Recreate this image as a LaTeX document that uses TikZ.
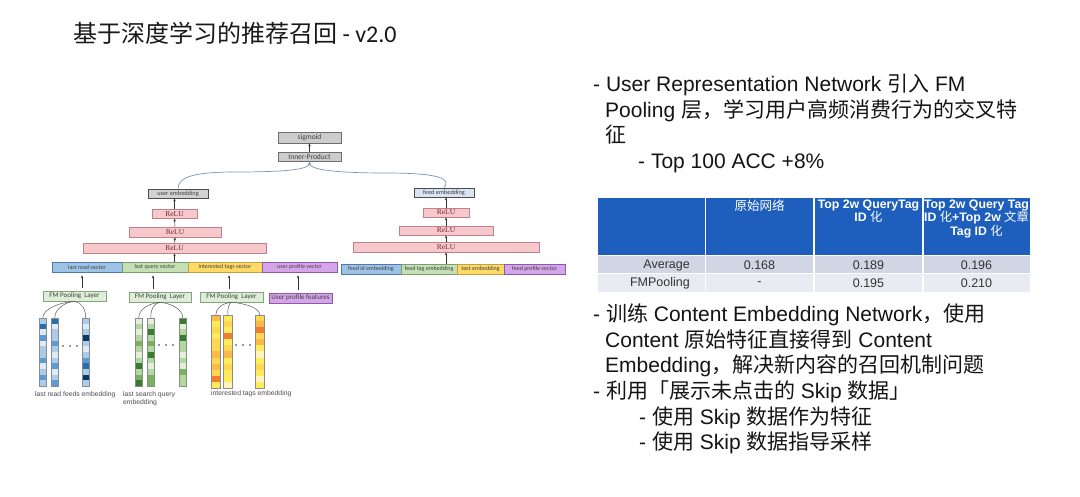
\documentclass[tikz,border=0pt]{standalone}
\usepackage{fontspec}
\setmainfont{Liberation Sans}
\newfontfamily\zh{Noto Sans CJK SC}
\newfontfamily\calfont{Carlito}
\newfontfamily\relufont{Liberation Serif}
\usetikzlibrary{arrows.meta}

\definecolor{gfill}{RGB}{204,204,204}
\definecolor{gdraw}{RGB}{110,110,110}
\definecolor{pfill}{RGB}{246,200,204}
\definecolor{pdraw}{RGB}{190,130,136}
\definecolor{rtext}{RGB}{120,40,40}
\definecolor{ufill}{RGB}{210,210,210}
\definecolor{ffill}{RGB}{218,227,243}
\definecolor{vbf}{RGB}{157,195,230}\definecolor{vbd}{RGB}{80,120,170}
\definecolor{vgf}{RGB}{197,224,180}\definecolor{vgd}{RGB}{120,160,110}
\definecolor{vyf}{RGB}{255,217,102}\definecolor{vyd}{RGB}{190,160,70}
\definecolor{vpf}{RGB}{214,164,232}\definecolor{vpd}{RGB}{140,90,170}
\definecolor{fmf}{RGB}{222,238,216}\definecolor{fmd}{RGB}{130,165,125}
\definecolor{curvec}{RGB}{125,148,178}
\definecolor{thead}{RGB}{30,94,188}
\definecolor{trow1}{RGB}{209,213,228}
\definecolor{trow2}{RGB}{233,235,242}
\definecolor{eb0}{RGB}{222,235,247}\definecolor{eb1}{RGB}{170,204,232}\definecolor{eb2}{RGB}{91,155,213}\definecolor{eb3}{RGB}{40,110,175}\definecolor{eb4}{RGB}{10,55,105}
\definecolor{eg0}{RGB}{226,240,218}\definecolor{eg1}{RGB}{178,215,160}\definecolor{eg2}{RGB}{120,178,95}\definecolor{eg3}{RGB}{55,125,45}\definecolor{eg4}{RGB}{25,75,20}
\definecolor{ey0}{RGB}{255,246,190}\definecolor{ey1}{RGB}{255,236,90}\definecolor{ey2}{RGB}{255,215,80}\definecolor{ey3}{RGB}{252,185,70}\definecolor{ey4}{RGB}{242,125,50}

\newcommand\embcol[6]{%
  \foreach \c [count=\i from 0] in {#6} {
    \fill[\c] (#2,{#3+\i*#5/12}) rectangle ({#2+#4},{#3+(\i+1)*#5/12});
  }
  \node[embbox, minimum width=#4, minimum height=#5, anchor=north west] (#1) at (#2,#3) {};
}
\newcommand\zhm[1]{{\zh\mdseries #1}}

\begin{document}
\begin{tikzpicture}[x=1pt,y=-1pt,
  box/.style={draw, line width=0.6pt, inner sep=0pt, align=center},
  graybox/.style={box, fill=gfill, draw=gdraw, text=black!75, font=\calfont\fontsize{7.5}{8}\selectfont},
  relu/.style={box, fill=pfill, draw=pdraw, text=rtext, font=\relufont\fontsize{7.5}{8}\selectfont},
  embout/.style={box, draw=black!70, text=black!75, font=\calfont\fontsize{6.3}{7}\selectfont},
  vec/.style={box, text=black!75, font=\calfont\fontsize{6}{7}\selectfont},
  vblue/.style={vec, fill=vbf, draw=vbd},
  vgreen/.style={vec, fill=vgf, draw=vgd},
  vyellow/.style={vec, fill=vyf, draw=vyd},
  vpurple/.style={vec, fill=vpf, draw=vpd},
  fmbox/.style={box, fill=fmf, draw=fmd, text=black!75, font=\calfont\fontsize{7}{8}\selectfont},
  embbox/.style={draw=black!45, line width=0.5pt, inner sep=0pt},
  arr/.style={-{Stealth[length=3pt,width=2.4pt]}, line width=0.5pt, draw=black!80},
  curve/.style={line width=0.7pt, draw=curvec, -{Stealth[length=3pt,width=2.6pt]}},
  fan/.style={line width=0.5pt, draw=black!65},
  caption/.style={anchor=west, inner sep=0pt, text=black!70, align=left, font=\fontsize{6.8}{8.5}\selectfont},
  rt/.style={anchor=base west, inner sep=0pt, text=black!92, font=\fontsize{21}{25}\selectfont},
  th/.style={anchor=north, inner sep=0pt, align=center, text=white, font=\bfseries\fontsize{12.3}{13.6}\selectfont},
  td/.style={inner sep=0pt, text=black!80, font=\fontsize{12.5}{14}\selectfont}
]
\fill[white] (0,0) rectangle (1080,497);
\useasboundingbox (0,0) rectangle (1080,497);

% title
\node[anchor=base west, inner sep=0pt, text=black!90, font=\fontsize{24}{28}\selectfont] (title) at (73,43)
  {{\zh 基于深度学习的推荐召回}\calfont{} - v2.0};

% ---------------- diagram: top
\node[graybox, minimum width=63, minimum height=11] (sig) at (309.5,137.5) {sigmoid};
\node[graybox, minimum width=63, minimum height=8.6] (ip) at (309.5,157) {Inner-Product};
\draw[arr] (ip.north) -- (sig.south);

% user tower
\node[embout, fill=ufill, minimum width=60, minimum height=9] (ue) at (178,193.5) {user embedding};
\node[relu, minimum width=45, minimum height=8.5] (ur1) at (174.5,214) {ReLU};
\node[relu, minimum width=92, minimum height=10] (ur2) at (175,232) {ReLU};
\node[relu, minimum width=183, minimum height=10] (ur3) at (174.5,248) {ReLU};
\node[vblue, minimum width=70, minimum height=10] (lrv) at (87,267) {last read vector};
\node[vgreen, minimum width=66, minimum height=10] (lqv) at (155,267) {last query vector};
\node[vyellow, minimum width=74, minimum height=10] (itv) at (225,267) {interested tags vector};
\node[vpurple, minimum width=75, minimum height=10] (upv) at (299.5,267) {user profile vector};

\draw[arr] (lqv.north -| ur3.south) -- (ur3.south);
\draw[arr] (ur3.north) -- (ur2.south);
\draw[arr] (ur2.north) -- (ur1.south);
\draw[arr] (ur1.north) -- (ur1.north |- ue.south);

% feed tower
\node[embout, fill=ffill, minimum width=60, minimum height=9] (fe) at (444,192.5) {feed embedding};
\node[relu, minimum width=46, minimum height=9] (fr1) at (446,212.5) {ReLU};
\node[relu, minimum width=94, minimum height=9] (fr2) at (446,230.5) {ReLU};
\node[relu, minimum width=186, minimum height=10] (fr3) at (446,247) {ReLU};
\node[vblue, minimum width=60, minimum height=10] (fid) at (371,269) {feed id embedding};
\node[vgreen, minimum width=56, minimum height=10] (ftag) at (429,269) {feed tag embedding};
\node[vyellow, minimum width=47, minimum height=10] (ftxt) at (480.5,269) {text embedding};
\node[vpurple, minimum width=61, minimum height=10] (fpv) at (534.5,269) {feed profile vector};

\draw[arr] (ftag.north -| fr3.south) -- (fr3.south);
\draw[arr] (fr3.north) -- (fr2.south);
\draw[arr] (fr2.north) -- (fr1.south);
\draw[arr] (fr1.north) -- (fr1.north |- fe.south);

% curves into inner product
\coordinate (cl) at (235,172);
\coordinate (cr) at (385,173);
\draw[curve] (ue.north) .. controls +(0,-12) and +(-40,0) .. (cl) .. controls +(50,0) and +(0,8) .. (ip.south);
\draw[curve] (fe.north) .. controls +(6,-8) and +(60,0) .. (cr) .. controls +(-50,0) and +(0,8) .. (ip.south);

% FM pooling layers
\node[fmbox, minimum width=63, minimum height=10] (fm1) at (74.5,296) {FM Pooling\ \ Layer};
\node[fmbox, minimum width=62, minimum height=10] (fm2) at (160,297) {FM Pooling\ \ Layer};
\node[fmbox, minimum width=63, minimum height=10] (fm3) at (231.5,297) {FM Pooling\ \ Layer};
\node[vpurple, font=\calfont\fontsize{7}{8}\selectfont, minimum width=63, minimum height=10] (upf) at (300.5,298) {User profile features};

\coordinate (a1) at ([xshift=7.5pt]fm1.north);
\coordinate (a2) at ([xshift=-7pt]fm2.north);
\coordinate (a3) at ([xshift=-2.5pt]fm3.north);
\coordinate (a4) at ([xshift=-2.5pt]upf.north);
\draw[arr, shorten <=3pt, shorten >=3pt] (a1) -- (a1 |- lrv.south);
\draw[arr, shorten <=3pt, shorten >=3pt] (a2) -- (a2 |- lqv.south);
\draw[arr, shorten <=3pt, shorten >=3pt] (a3) -- (a3 |- itv.south);
\draw[arr, shorten <=3pt, shorten >=3pt] (a4) -- (a4 |- upv.south);

% embedding columns
\embcol{bc1}{39}{318}{7}{68}{eb1,eb3,eb0,eb2,eb0,eb1,eb1,eb2,eb0,eb1,eb2,eb1}
\embcol{bc2}{51}{318}{7}{68}{eb3,eb0,eb1,eb1,eb2,eb1,eb0,eb1,eb2,eb0,eb1,eb2}
\embcol{bc3}{82}{318}{7}{68}{eb1,eb0,eb1,eb4,eb1,eb0,eb1,eb2,eb3,eb1,eb4,eb1}
\embcol{gc1}{135}{318}{7}{68}{eg0,eg1,eg0,eg1,eg2,eg1,eg0,eg1,eg3,eg1,eg2,eg3}
\embcol{gc2}{147}{318}{7}{68}{eg0,eg1,eg3,eg1,eg2,eg1,eg3,eg1,eg0,eg1,eg2,eg2}
\embcol{gc3}{179}{318}{7}{68}{eg3,eg0,eg1,eg3,eg1,eg1,eg0,eg1,eg0,eg2,eg1,eg1}
\embcol{yc1}{211}{315}{9}{73}{ey3,ey1,ey2,ey1,ey2,ey2,ey3,ey2,ey3,ey2,ey4,ey1}
\embcol{yc2}{223}{315}{9}{73}{ey1,ey2,ey1,ey4,ey1,ey2,ey3,ey1,ey2,ey1,ey1,ey0}
\embcol{yc3}{255}{315}{9}{73}{ey2,ey3,ey4,ey2,ey3,ey1,ey0,ey1,ey2,ey1,ey0,ey1}

% fans
\draw[fan] (fm1.south) .. controls +(-15,1) and +(0,-9) .. (bc1.north);
\draw[fan] (fm1.south) .. controls +(-10,1) and +(0,-9) .. (bc2.north);
\draw[fan] (fm1.south) .. controls +(7,1) and +(0,-9) .. (bc3.north);
\draw[fan] (fm2.south) .. controls +(-11,1) and +(0,-9) .. (gc1.north);
\draw[fan] (fm2.south) .. controls +(-6,1) and +(0,-9) .. (gc2.north);
\draw[fan] (fm2.south) .. controls +(11,1) and +(0,-9) .. (gc3.north);
\draw[fan] (fm3.south) .. controls +(-9,1) and +(0,-7) .. (yc1.north);
\draw[fan] (fm3.south) .. controls +(-3,1) and +(0,-7) .. (yc2.north);
\draw[fan] (fm3.south) .. controls +(14,1) and +(0,-7) .. (yc3.north);

% dots
\foreach \x in {63,70,77} \fill[black!80] (\x,346) circle (0.8);
\foreach \x in {159,166,173} \fill[black!80] (\x,345) circle (0.8);
\foreach \x in {236,243,250} \fill[black!80] (\x,345) circle (0.8);

% captions
\node[caption] (cap1) at (35,395) {last read feeds embedding};
\node[caption, anchor=north west] (cap2) at (123,391) {last search query\\embedding};
\node[caption] (cap3) at (211,394) {interested tags embedding};

% ---------------- right text
\node[rt] (r1) at (593,92) {- User Representation Network {\zh 引入} FM};
\node[rt] (r2) at (605,117.5) {Pooling {\zh 层，学习用户高频消费行为的交叉特}};
\node[rt] (r3) at (605,143) {\zh 征};
\node[rt] (r4) at (638,168.5) {- Top 100 ACC +8\%};

\node[rt] (r5) at (593,322) {- {\zh 训练} Content Embedding Network{\zh ，使用}};
\node[rt] (r6) at (605,347.5) {Content {\zh 原始特征直接得到} Content};
\node[rt] (r7) at (605,373) {Embedding{\zh ，解决新内容的召回机制问题}};
\node[rt] (r8) at (593,398.5) {- {\zh 利用「展示未点击的} Skip {\zh 数据」}};
\node[rt] (r9) at (639,424) {- {\zh 使用} Skip {\zh 数据作为特征}};
\node[rt] (r10) at (639,449.5) {- {\zh 使用} Skip {\zh 数据指导采样}};

% ---------------- table
\fill[thead] (598,198) rectangle (1030,255);
\fill[trow1] (598,256) rectangle (1030,273.5);
\fill[trow2] (598,274.5) rectangle (1030,292);
\foreach \x in {705.5,814,923} \draw[white, line width=1.8pt] (\x,198) -- (\x,292);

\node[th, font=\zh\mdseries\fontsize{12.5}{13.6}\selectfont] (h2) at (759.5,199.5) {原始网络};
\node[th] (h3) at (868.5,199.5) {Top 2w QueryTag\\ID \zhm{化}};
\node[th] (h4) at (976.5,199.5) {Top 2w Query Tag\\ID \zhm{化}+Top 2w \zhm{文章}\\Tag ID \zhm{化}};

\node[td, anchor=east] (d11) at (690,265) {Average};
\node[td] (d12) at (759.5,265) {0.168};
\node[td] (d13) at (868.5,265) {0.189};
\node[td] (d14) at (976.5,265) {0.196};
\node[td, anchor=east] (d21) at (690,283.5) {FMPooling};
\node[td] (d22) at (759.5,283.5) {-};
\node[td] (d23) at (868.5,283.5) {0.195};
\node[td] (d24) at (976.5,283.5) {0.210};
\end{tikzpicture}
\end{document}
